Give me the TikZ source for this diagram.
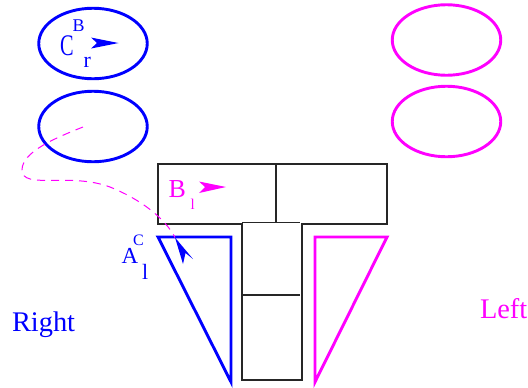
\documentclass[tikz,border=0pt]{standalone}
\usepackage{fontspec}
\setmainfont{Liberation Serif}
\usetikzlibrary{shapes.geometric}
\definecolor{fblue}{RGB}{0,0,255}
\definecolor{fmag}{RGB}{255,0,255}
\begin{document}
\begin{tikzpicture}[x=1bp,y=-1bp,
  blueline/.style={draw=fblue,line width=2.9bp},
  magline/.style={draw=fmag,line width=2.9bp},
  blackline/.style={draw=black!85,line width=1.3bp},
  oval/.style={ellipse,minimum width=108.5bp,minimum height=70.5bp,inner sep=0pt,outer sep=0pt},
  lbl/.style={inner sep=0pt,outer sep=0pt,anchor=base west},
  dashcurve/.style={draw=fmag,line width=1bp,dash pattern=on 8bp off 6bp},
  bluemark/.style={fill=fblue,draw=none},
  magmark/.style={fill=fmag,draw=none}
]
\useasboundingbox (0,0) rectangle (528,387);
% ellipses
\node[oval,blueline] (eb1) at (93,43.5) {};
\node[oval,blueline] (eb2) at (93,126.5) {};
\node[oval,magline] (em1) at (446.5,40) {};
\node[oval,magline] (em2) at (446.5,121.5) {};
% T shape
\draw[blackline] (158,164) -- (387,164) -- (387,224) -- (302,224) -- (302,380)
  -- (242,380) -- (242,224) -- (158,224) -- cycle;
\draw[blackline] (242,222.8) -- (300,222.8);
\draw[blackline] (276,164) -- (276,223);
\draw[blackline] (242,295) -- (300,295);
% triangles
\draw[blueline,line join=miter] (158,237) -- (231,237) -- (231,382) -- cycle;
\draw[magline,line join=miter] (315,237) -- (387,237) -- (315,382) -- cycle;
% arrow markers
\fill[bluemark] (118.5,43) -- (91,37.5) -- (97,43) -- (91,48.5) -- cycle;
\fill[magmark] (226,187) -- (199,181.5) -- (205,187) -- (199,193) -- cycle;
\coordinate (atip) at (175,237.5);
\fill[bluemark] (atip) -- (183,264) -- (185.5,253) -- (193,259) -- cycle;
% dashed curve
\coordinate (dstart) at (83,127);
\draw[dashcurve] (dstart) .. controls (55,138) and (22,152) .. (22,170)
  .. controls (22,190) and (70,172) .. (110,187)
  .. controls (140,199) and (165,218) .. (atip);
% labels
\node[lbl,text=fblue] (cr) at (60,55.5) {\fontsize{30}{32}\selectfont\scalebox{0.68}[1]{C}};
\node[lbl,text=fblue] (crs) at (72.5,31.5) {\fontsize{18}{20}\selectfont B};
\node[lbl,text=fblue] (crb) at (83.5,67.5) {\fontsize{22}{24}\selectfont r};
\node[lbl,text=fmag] (bl) at (168.5,197.5) {\fontsize{26}{28}\selectfont B};
\node[lbl,text=fmag] (blb) at (190.5,209.5) {\fontsize{15}{17}\selectfont l};
\node[lbl,text=fblue] (al) at (121.5,263.5) {\fontsize{23}{25}\selectfont A};
\node[lbl,text=fblue] (als) at (133,245) {\fontsize{16}{18}\selectfont C};
\node[lbl,text=fblue] (alb) at (142,279.5) {\fontsize{22}{24}\selectfont l};
\node[lbl,text=fblue] (right) at (12,331.5) {\fontsize{28.5}{30}\selectfont Right};
\node[lbl,text=fmag] (left) at (480,318.5) {\fontsize{28.5}{30}\selectfont Left};
\end{tikzpicture}
\end{document}
